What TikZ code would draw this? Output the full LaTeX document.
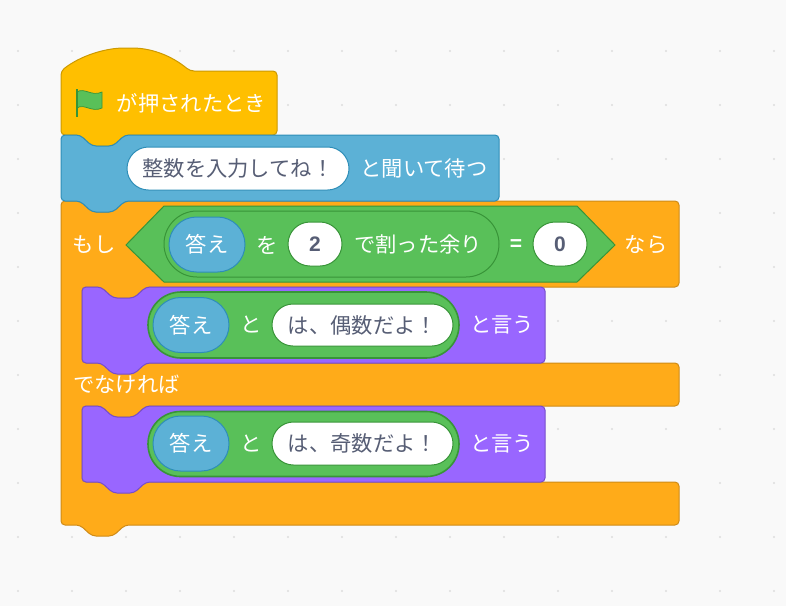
\documentclass[tikz,border=0pt]{standalone}
\usepackage{fontspec}
\setmainfont{Noto Sans CJK JP}
\newfontfamily\digitfont{Liberation Sans}
\usetikzlibrary{shapes.misc}
\definecolor{bgpage}{HTML}{F9F9F9}
\definecolor{griddot}{HTML}{DDDDDD}
\definecolor{hatfill}{HTML}{FFBF00}
\definecolor{hatline}{HTML}{CC9900}
\definecolor{sensefill}{HTML}{5CB1D6}
\definecolor{senseline}{HTML}{2E8EB8}
\definecolor{ctrlfill}{HTML}{FFAB19}
\definecolor{ctrlline}{HTML}{CF8B17}
\definecolor{lookfill}{HTML}{9966FF}
\definecolor{lookline}{HTML}{774DCB}
\definecolor{opfill}{HTML}{59C059}
\definecolor{opline}{HTML}{389438}
\definecolor{inktext}{HTML}{575E75}
% notch along a top edge, going right, and bump along a bottom edge, going left
\newcommand{\notchtop}[2]{-- (#1+19,#2) -- (#1+31,#2+11) -- (#1+52,#2+11) -- (#1+64,#2)}
\newcommand{\bumpbot}[2]{-- (#1+64,#2) -- (#1+52,#2+11) -- (#1+31,#2+11) -- (#1+19,#2)}
\newcommand{\stackblock}[6]{\draw[block,fill=#1,draw=#2] (#3,#4) \notchtop{#3}{#4} -- (#5,#4) -- (#5,#6) \bumpbot{#3}{#6} -- (#3,#6) -- cycle;}

\begin{document}
\begin{tikzpicture}[x=1pt,y=-1pt,
    block/.style={line width=1pt,rounded corners=4pt,line join=round},
    word/.style={text=white,font=\fontsize{21.3}{25}\selectfont,inner sep=0pt},
    pill/.style={rounded rectangle,draw,line width=1pt,inner sep=0pt,outer sep=0pt},
    var/.style={pill,fill=sensefill,draw=senseline,minimum width=76pt,minimum height=55pt,text=white,font=\fontsize{21.3}{25}\selectfont},
    input/.style={pill,fill=white,draw=opline,text=inktext,font=\fontsize{21.3}{25}\selectfont},
    number/.style={input,minimum width=54pt,minimum height=44pt,font=\fontsize{21}{25}\digitfont\bfseries},
    opbox/.style={pill,fill=opfill,draw=opline},
    joinbox/.style={opbox,line width=1.6pt,minimum width=311pt}]
  \useasboundingbox (0,0) rectangle (786,606);
  \fill[bgpage] (0,0) rectangle (786,606);
  \foreach \i in {0,...,14}
    \foreach \j in {0,...,10}
      \fill[griddot] (18+54*\i,51+54*\j) circle (1.2pt);

  % if / else block
  \draw[block,fill=ctrlfill,draw=ctrlline] (61,201) \notchtop{61}{201} -- (679,201) -- (679,287)
    \bumpbot{82}{287} -- (82,287) -- (82,363) -- (679,363) -- (679,406) \bumpbot{82}{406} -- (82,406) -- (82,482)
    -- (679,482) -- (679,525) \bumpbot{61}{525} -- (61,525) -- cycle;

  % hat block
  \draw[block,fill=hatfill,draw=hatline] (61,135) -- (61,71)
    .. controls (80,56) and (105,48) .. (128,48) .. controls (152,48) and (172,56) .. (190,71)
    -- (277,71) -- (277,135) \bumpbot{61}{135} -- cycle;
  \fill[opfill,draw=opline,line width=0.7pt] (77,92) .. controls (84,87) and (92,97) .. (102,92)
    -- (102,108) .. controls (92,113) and (84,103) .. (77,108) -- cycle;
  \draw[opline,line width=2.2pt] (77,89) -- (77,117);
  \node[word] (whenflag) at (191.5,103) {が押されたとき};

  % ask block
  \stackblock{sensefill}{senseline}{61}{135}{499}{201}
  \node[input,draw=senseline,minimum width=222pt,minimum height=43pt] (question) at (238,168.5) {整数を入力してね！};
  \node[word] (askwait) at (424,168) {と聞いて待つ};

  % condition
  \draw[line width=1pt,fill=opfill,draw=opline] (126,245) -- (164,206) -- (577,206) -- (615,245) -- (577,282) -- (164,282) -- cycle;
  \node[opbox,minimum width=335pt,minimum height=66pt] (modulo) at (331.5,244) {};
  \node[var] (answerA) at (207,244.5) {答え};
  \node[word] (wo) at (267,245) {を};
  \node[number] (two) at (315,244) {2};
  \node[word] (remainder) at (418,244) {で割った余り};
  \node[word,font=\fontsize{21}{25}\digitfont\bfseries] (equals) at (516,245) {=};
  \node[number] (zero) at (560,244) {0};
  \node[word] (ifword) at (94,245) {もし};
  \node[word] (thenword) at (646,245) {なら};
  \node[word] (elseword) at (126.5,384) {でなければ};

  % first say block
  \stackblock{lookfill}{lookline}{82}{287}{545}{363}
  \node[joinbox,minimum height=66pt] (joinA) at (303.5,325) {};
  \node[var] (answerB) at (191,325) {答え};
  \node[word] (toA) at (251,325) {と};
  \node[input,minimum width=181pt,minimum height=42pt] (even) at (362.5,325) {は、偶数だよ！};
  \node[word] (sayA) at (502,325) {と言う};

  % second say block
  \stackblock{lookfill}{lookline}{82}{406}{545}{482}
  \node[joinbox,minimum height=65pt] (joinB) at (303.5,444) {};
  \node[var] (answerC) at (191,443.5) {答え};
  \node[word] (toB) at (251,444) {と};
  \node[input,minimum width=181pt,minimum height=43pt] (odd) at (362.5,443.5) {は、奇数だよ！};
  \node[word] (sayB) at (502,444) {と言う};
\end{tikzpicture}
\end{document}
